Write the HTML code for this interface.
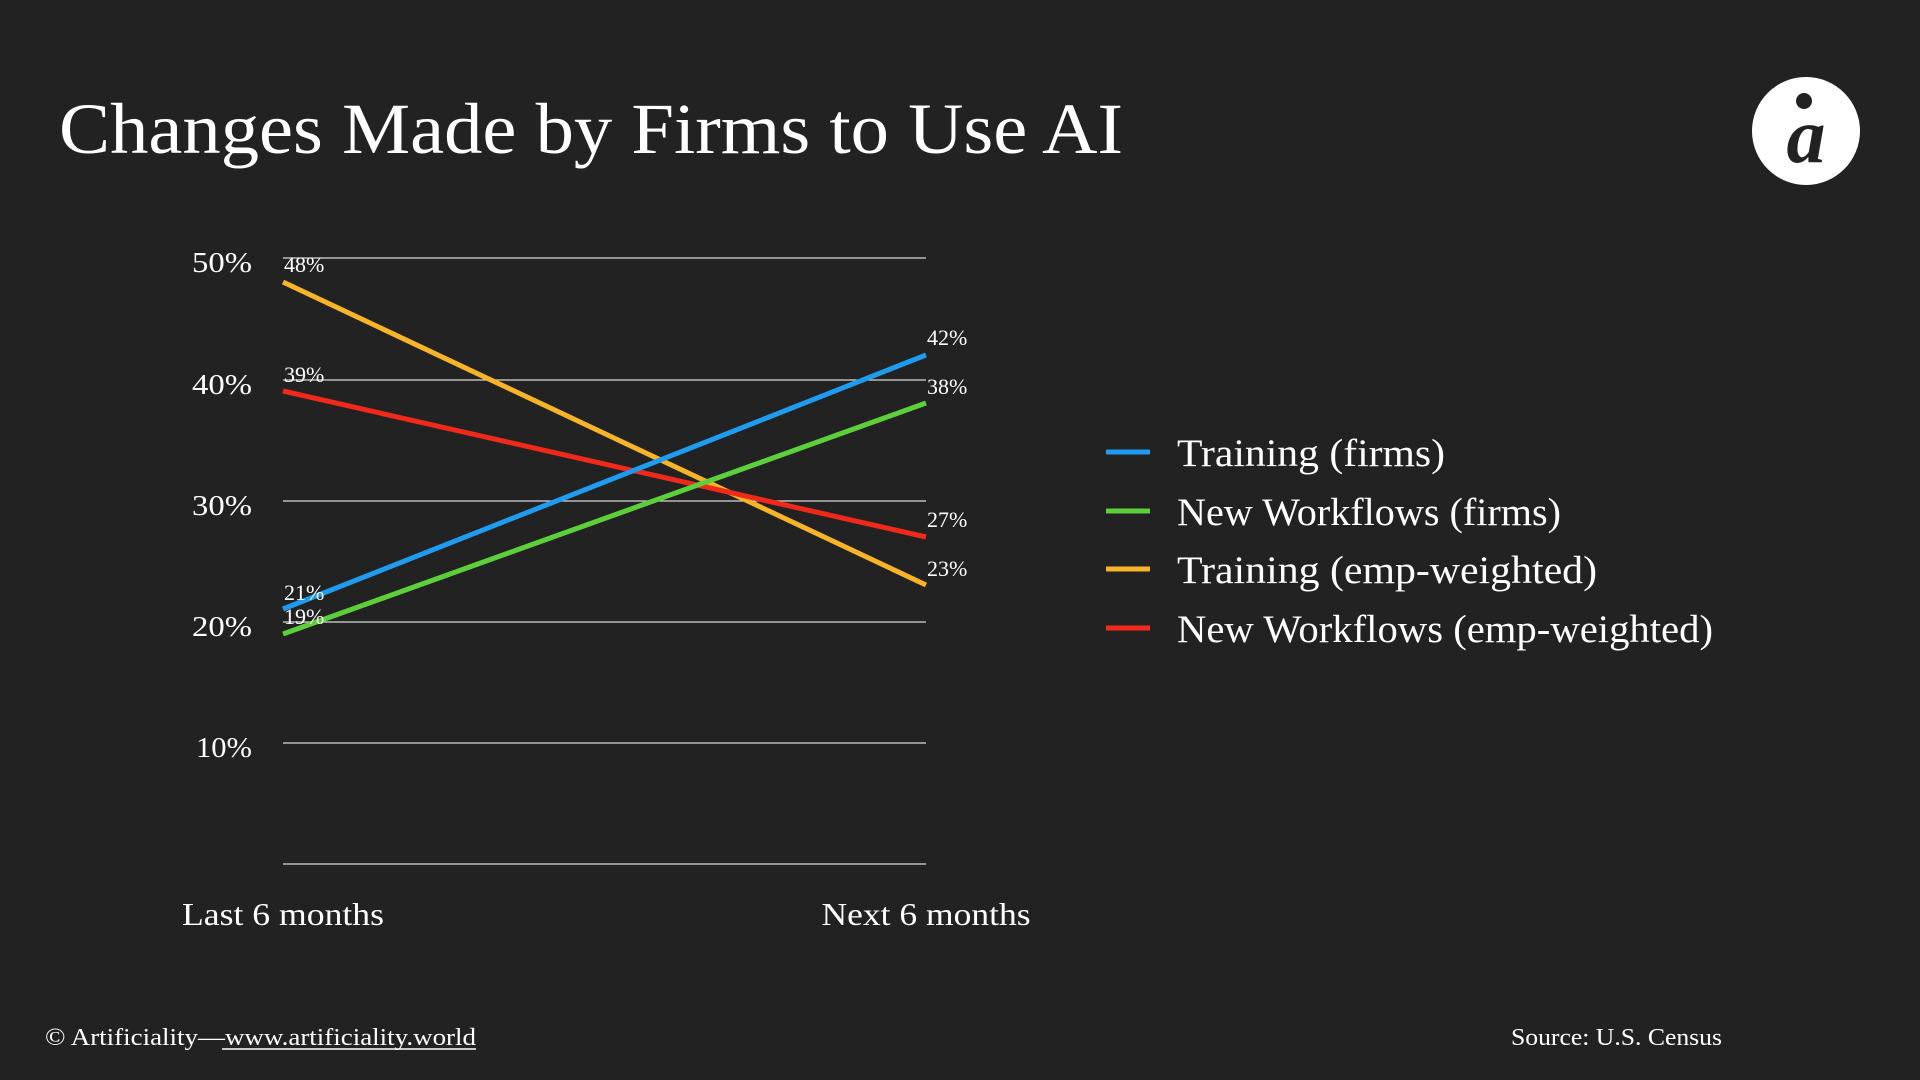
<!DOCTYPE html>
<html><head><meta charset="utf-8"><style>
html,body{margin:0;padding:0;background:#222222;}
svg{display:block;}
text{font-family:"Liberation Serif","DejaVu Serif",serif;fill:#ffffff;}
</style></head><body>
<svg width="1920" height="1080" viewBox="0 0 1920 1080" xmlns="http://www.w3.org/2000/svg">
<rect width="1920" height="1080" fill="#222222"/>
<text x="59" y="153" font-size="72" textLength="1064" lengthAdjust="spacingAndGlyphs">Changes Made by Firms to Use AI</text>
<circle cx="1806" cy="131" r="54" fill="#ffffff"/>
<circle cx="1804" cy="101" r="8" fill="#222222"/>
<text x="1806" y="162" font-size="78" font-style="italic" text-anchor="middle" style="fill:#222222" font-weight="bold">a</text>
<g stroke="#d8d8d8" stroke-width="1.2">
<line x1="283" y1="258" x2="926" y2="258"/>
<line x1="283" y1="380" x2="926" y2="380"/>
<line x1="283" y1="501" x2="926" y2="501"/>
<line x1="283" y1="622" x2="926" y2="622"/>
<line x1="283" y1="743" x2="926" y2="743"/>
<line x1="283" y1="864" x2="926" y2="864"/>
</g>
<g font-size="29" text-anchor="end">
<text x="252" y="272" textLength="60" lengthAdjust="spacingAndGlyphs">50%</text>
<text x="252" y="394" textLength="60" lengthAdjust="spacingAndGlyphs">40%</text>
<text x="252" y="515" textLength="60" lengthAdjust="spacingAndGlyphs">30%</text>
<text x="252" y="636" textLength="60" lengthAdjust="spacingAndGlyphs">20%</text>
<text x="252" y="757" textLength="56" lengthAdjust="spacingAndGlyphs">10%</text>
</g>
<g stroke-width="5" fill="none" stroke-linecap="butt">
<line x1="283" y1="282" x2="926" y2="585" stroke="#f6b426"/>
<line x1="283" y1="391" x2="926" y2="537" stroke="#f0291b"/>
<line x1="283" y1="634" x2="926" y2="403" stroke="#5ccf3a"/>
<line x1="283" y1="609" x2="926" y2="355" stroke="#1f9cf0"/>
</g>
<g font-size="22">
<text x="284" y="272">48%</text>
<text x="284" y="382">39%</text>
<text x="284" y="600">21%</text>
<text x="284" y="624">19%</text>
<text x="927" y="345">42%</text>
<text x="927" y="394">38%</text>
<text x="927" y="527">27%</text>
<text x="927" y="576">23%</text>
</g>
<g font-size="32" text-anchor="middle">
<text x="283" y="925" textLength="202" lengthAdjust="spacingAndGlyphs">Last 6 months</text>
<text x="926" y="925" textLength="209" lengthAdjust="spacingAndGlyphs">Next 6 months</text>
</g>
<g stroke-width="5">
<line x1="1106" y1="452" x2="1150" y2="452" stroke="#1f9cf0"/>
<line x1="1106" y1="511" x2="1150" y2="511" stroke="#5ccf3a"/>
<line x1="1106" y1="569" x2="1150" y2="569" stroke="#f6b426"/>
<line x1="1106" y1="628" x2="1150" y2="628" stroke="#f0291b"/>
</g>
<g font-size="39">
<text x="1177" y="466" textLength="268" lengthAdjust="spacingAndGlyphs">Training (firms)</text>
<text x="1177" y="525" textLength="384" lengthAdjust="spacingAndGlyphs">New Workflows (firms)</text>
<text x="1177" y="583" textLength="420" lengthAdjust="spacingAndGlyphs">Training (emp-weighted)</text>
<text x="1177" y="642" textLength="536" lengthAdjust="spacingAndGlyphs">New Workflows (emp-weighted)</text>
</g>
<text x="45" y="1045" font-size="24" textLength="431" lengthAdjust="spacingAndGlyphs">© Artificiality—www.artificiality.world</text>
<line x1="222" y1="1049" x2="476" y2="1049" stroke="#ffffff" stroke-width="1.5"/>
<text x="1511" y="1045" font-size="24" textLength="211" lengthAdjust="spacingAndGlyphs">Source: U.S. Census</text>
</svg>
</body></html>
